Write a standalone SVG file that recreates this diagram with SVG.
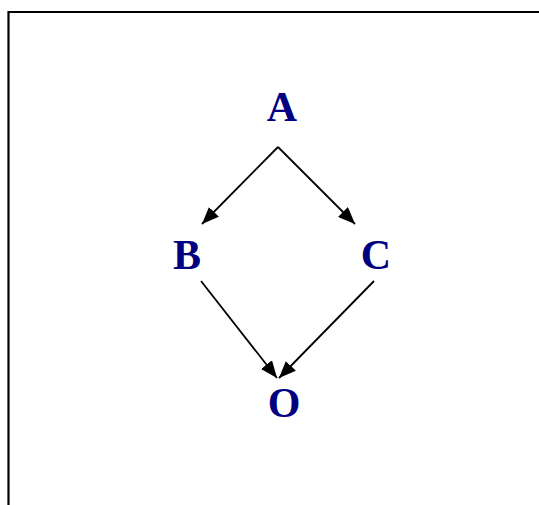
<svg xmlns="http://www.w3.org/2000/svg" width="539" height="505" viewBox="0 0 539 505">
  <style>
    .lbl { font-family: "Liberation Serif", "Times New Roman", serif; font-weight: bold; font-size: 42px; fill: #000080; text-anchor: middle; }
    .edge { stroke: #000; stroke-width: 1.8; fill: none; marker-end: url(#arr); }
    .frame { stroke: #000; stroke-width: 2.2; fill: none; }
  </style>
  <defs>
    <marker id="arr" markerUnits="userSpaceOnUse" markerWidth="18" markerHeight="14" refX="17" refY="7" orient="auto">
      <path d="M0,0 L17,7 L0,14 z" fill="#000"/>
    </marker>
  </defs>
  <rect width="539" height="505" fill="#fff"/>
  <path class="frame" d="M8.5,505 L8.5,12 L539,12"/>
  <g id="connectors">
    <line class="edge" x1="278" y1="147" x2="202" y2="224"/>
    <line class="edge" x1="278" y1="147" x2="355" y2="224"/>
    <line class="edge" x1="201" y1="281" x2="277" y2="378"/>
    <line class="edge" x1="374" y1="281" x2="279" y2="378"/>
  </g>
  <g id="nodeA"><text class="lbl" x="282" y="121">A</text></g>
  <g id="nodeB"><text class="lbl" x="187" y="269">B</text></g>
  <g id="nodeC"><text class="lbl" x="376" y="269">C</text></g>
  <g id="nodeO"><text class="lbl" x="284" y="417">O</text></g>
</svg>
